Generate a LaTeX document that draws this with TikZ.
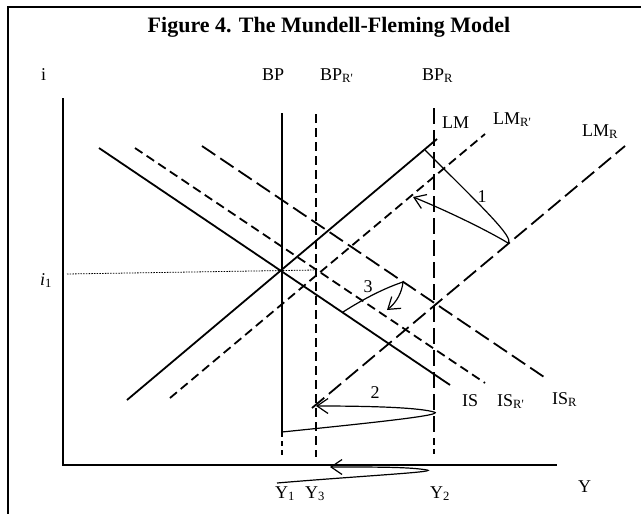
\documentclass[tikz,border=0pt]{standalone}
\usepackage{fontspec}
\setmainfont{Liberation Serif}
\newfontfamily\plainserif{Liberation Serif}
\usetikzlibrary{arrows.meta}
\newcommand{\sbs}[1]{\textsubscript{\plainserif #1}}
\begin{document}
\begin{tikzpicture}[x=1pt,y=-1pt,
 lbl/.style={font=\fontsize{18}{18}\selectfont, inner sep=0pt, anchor=base west},
 numlbl/.style={font=\fontsize{18}{18}\selectfont, inner sep=0pt},
 solidln/.style={line width=1.8pt},
 axisln/.style={line width=1.5pt},
 shortdash/.style={line width=1.8pt, dash pattern=on 9pt off 5pt},
 longdash/.style={line width=1.8pt, dash pattern=on 16pt off 6pt},
 dropln/.style={line width=1.3pt, dash pattern=on 5pt off 4pt},
 curveln/.style={line width=1.2pt},
 arr/.style={curveln, -{Straight Barb[length=11pt,width=15pt,line width=1.2pt]}},
]
\useasboundingbox (0,0) rectangle (641,514);
% frame
\coordinate (fr) at (641,7);
\coordinate (ftl) at (8,7);
\coordinate (fb) at (8,514);
\draw[line width=2pt] (fb) -- (ftl) -- (fr);
% title
\node[font=\fontsize{22}{22}\selectfont\bfseries, inner sep=0pt] (title) at (329,27) {Figure 4. The Mundell-Fleming Model};
% axes
\coordinate (ytop) at (63,98);
\coordinate (org) at (63,465);
\coordinate (xend) at (557,465);
\draw[axisln] (ytop) -- (org) -- (xend);
% BP lines
\coordinate (bpT) at (282,113); \coordinate (bpB) at (282,432); \coordinate (bpD) at (282,457);
\coordinate (bprpT) at (316,114); \coordinate (bprpB) at (316,457);
\coordinate (bprT) at (434,108); \coordinate (bprM) at (434,440); \coordinate (bprB) at (434,457);
\draw[solidln] (bpT) -- (bpB);
\draw[dropln] (bpB) -- (bpD);
\draw[shortdash] (bprpT) -- (bprpB);
\draw[longdash] (bprT) -- (bprM);
\draw[dropln] (bprM) -- (bprB);
% IS lines
\coordinate (isA) at (99,148); \coordinate (isB) at (450,385);
\coordinate (isrpA) at (135,148); \coordinate (isrpB) at (485,383);
\coordinate (isrA) at (202,146); \coordinate (isrB) at (547,379);
\draw[solidln] (isA) -- (isB);
\draw[shortdash] (isrpA) -- (isrpB);
\draw[longdash] (isrA) -- (isrB);
% LM lines
\coordinate (lmA) at (127,400); \coordinate (lmB) at (437,139);
\coordinate (lmrpA) at (170,398); \coordinate (lmrpB) at (485,134);
\coordinate (lmrA) at (312,408); \coordinate (lmrB) at (625,146);
\draw[solidln] (lmA) -- (lmB);
\draw[shortdash] (lmrpA) -- (lmrpB);
\draw[longdash] (lmrA) -- (lmrB);
% i1 dotted
\coordinate (dotA) at (67,274); \coordinate (dotB) at (316,270);
\draw[line width=0.8pt, dash pattern=on 1.5pt off 1.2pt] (dotA) -- (dotB);
% curve 1
\coordinate (c1s) at (425,150); \coordinate (c1t) at (508,243); \coordinate (c1e) at (413,197);
\draw[curveln] (c1s) .. controls (480,205) and (515,238) .. (c1t);
\draw[arr] (c1t) .. controls (490,232) and (450,212) .. (c1e);
% curve 2
\coordinate (c2s) at (282,432); \coordinate (c2t) at (434,412); \coordinate (c2e) at (316,406);
\draw[curveln] (c2s) .. controls (380,422) and (445,415) .. (c2t);
\draw[arr] (c2t) .. controls (420,408) and (380,406) .. (c2e);
% lower curve
\coordinate (c4s) at (277,483); \coordinate (c4t) at (427,470); \coordinate (c4e) at (330,467);
\draw[curveln] (c4s) .. controls (360,476) and (438,472) .. (c4t);
\draw[arr] (c4t) .. controls (410,467) and (380,467) .. (c4e);
% curve 3
\coordinate (c3s) at (343,312); \coordinate (c3t) at (403,282); \coordinate (c3e) at (387,310);
\draw[curveln] (c3s) .. controls (365,298) and (385,288) .. (c3t);
\draw[arr] (c3t) .. controls (402,292) and (397,302) .. (c3e);
% labels
\node[lbl] (li) at (41,80) {i};
\node[lbl] (lbp) at (262,80) {BP};
\node[lbl] (lbprp) at (320,80) {BP\sbs{R'}};
\node[lbl] (lbpr) at (422,80) {BP\sbs{R}};
\node[lbl] (llm) at (442,128) {LM};
\node[lbl] (llmrp) at (493,124) {LM\sbs{R'}};
\node[lbl] (llmr) at (582,136) {LM\sbs{R}};
\node[lbl] (lis) at (462,406) {IS};
\node[lbl] (lisrp) at (497,406) {IS\sbs{R'}};
\node[lbl] (lisr) at (552,404) {IS\sbs{R}};
\node[lbl] (ly1) at (275,498) {Y\sbs{1}};
\node[lbl] (ly3) at (305,498) {Y\sbs{3}};
\node[lbl] (ly2) at (430,498) {Y\sbs{2}};
\node[lbl] (ly) at (578,492) {Y};
\node[lbl] (li1) at (40,285) {\textit{i}\sbs{1}};
\node[numlbl] (n1) at (482,197) {1};
\node[numlbl] (n2) at (375,393) {2};
\node[numlbl] (n3) at (368,287) {3};
\end{tikzpicture}
\end{document}
